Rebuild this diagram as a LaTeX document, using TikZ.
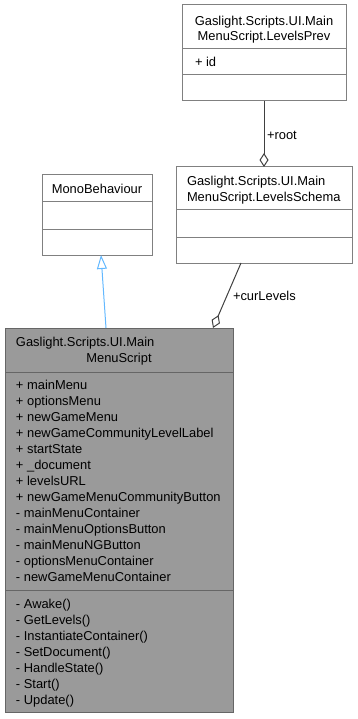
\documentclass[tikz,border=0pt]{standalone}
\usepackage{fontspec}
\setmainfont{Liberation Sans}
\usetikzlibrary{arrows.meta,calc}
\definecolor{boxline}{HTML}{808080}
\definecolor{mainline}{HTML}{666666}
\definecolor{mainfill}{HTML}{9A9A9A}
\definecolor{assocline}{HTML}{404040}
\definecolor{inheritline}{HTML}{63B8FF}
\begin{document}
\begin{tikzpicture}[x=1pt,y=1pt,
  umlbox/.style={draw=boxline, line width=1pt, fill=white, inner sep=0pt, outer sep=0pt},
  mainbox/.style={umlbox, draw=mainline, fill=mainfill},
  divider/.style={draw=boxline, line width=1pt},
  maindivider/.style={draw=mainline, line width=1pt},
  txt/.style={inner sep=0pt, outer sep=0pt, font=\fontsize{12.9}{16}\selectfont},
  member/.style={txt, anchor=base west},
  title/.style={txt, anchor=base},
  aggr/.style={draw=assocline, line width=1pt, -{Diamond[open, length=14pt, width=9pt, line width=1pt]}},
  inherit/.style={draw=inheritline, line width=1pt, -{Triangle[open, length=14pt, width=10pt, line width=1pt]}},
  rolelabel/.style={txt, anchor=base west}]
\useasboundingbox (0,0) rectangle (357,-719);

% Gaslight.Scripts.UI.MainMenuScript.LevelsPrev
\node[umlbox, minimum width=164pt, minimum height=96pt] (prev) at (264,-53) {};
\draw[divider] (182,-49) -- (346,-49);
\draw[divider] (182,-75) -- (346,-75);
\node[title] (prevt1) at (264,-25.7) {Gaslight.Scripts.UI.Main};
\node[title] (prevt2) at (264,-40.7) {MenuScript.LevelsPrev};
\node[member] (previd) at (195,-67) {+ id};

% Gaslight.Scripts.UI.MainMenuScript.LevelsSchema
\node[umlbox, minimum width=176pt, minimum height=96pt] (schema) at (264,-215) {};
\draw[divider] (176,-210) -- (352,-210);
\draw[divider] (176,-237) -- (352,-237);
\node[member] (schemat1) at (187,-186) {Gaslight.Scripts.UI.Main};
\node[member] (schemat2) at (187,-201) {MenuScript.LevelsSchema};

% MonoBehaviour
\node[umlbox, minimum width=110pt, minimum height=80pt] (mono) at (97,-215) {};
\draw[divider] (42,-202) -- (152,-202);
\draw[divider] (42,-229) -- (152,-229);
\node[title] (monot) at (97,-193.3) {MonoBehaviour};

% Gaslight.Scripts.UI.MainMenuScript
\node[mainbox, minimum width=228pt, minimum height=384pt] (main) at (119,-520) {};
\draw[maindivider] (5,-372) -- (233,-372);
\draw[maindivider] (5,-590) -- (233,-590);
\node[member] (maint1) at (16,-346.7) {Gaslight.Scripts.UI.Main};
\node[title] (maint2) at (119,-362.7) {MenuScript};

\foreach \m [count=\i from 0] in {%
  + mainMenu, + optionsMenu, + newGameMenu, + newGameCommunityLevelLabel,
  + startState, + \_document, + levelsURL, + newGameMenuCommunityButton,
  - mainMenuContainer, - mainMenuOptionsButton, - mainMenuNGButton,
  - optionsMenuContainer, - newGameMenuContainer}
  \node[member] (attr\i) at (16,-389-16*\i) {\m};

\foreach \m [count=\i from 0] in {%
  - Awake(), - GetLevels(), - InstantiateContainer(), - SetDocument(),
  - HandleState(), - Start(), - Update()}
  \node[member] (op\i) at (16,-608-16*\i) {\m};

% Relations
\draw[aggr] (prev.south) -- (schema.north);
\node[rolelabel] (rootlbl) at (267,-140) {+root};

\draw[aggr] ($(schema.south west)+(65,0)$) -- ($(main.north west)+(208,0)$);
\node[rolelabel] (curlbl) at (233,-300) {+curLevels};

\draw[inherit] ($(main.north west)+(101,0)$) -- ($(mono.south west)+(59,0)$);
\end{tikzpicture}
\end{document}
